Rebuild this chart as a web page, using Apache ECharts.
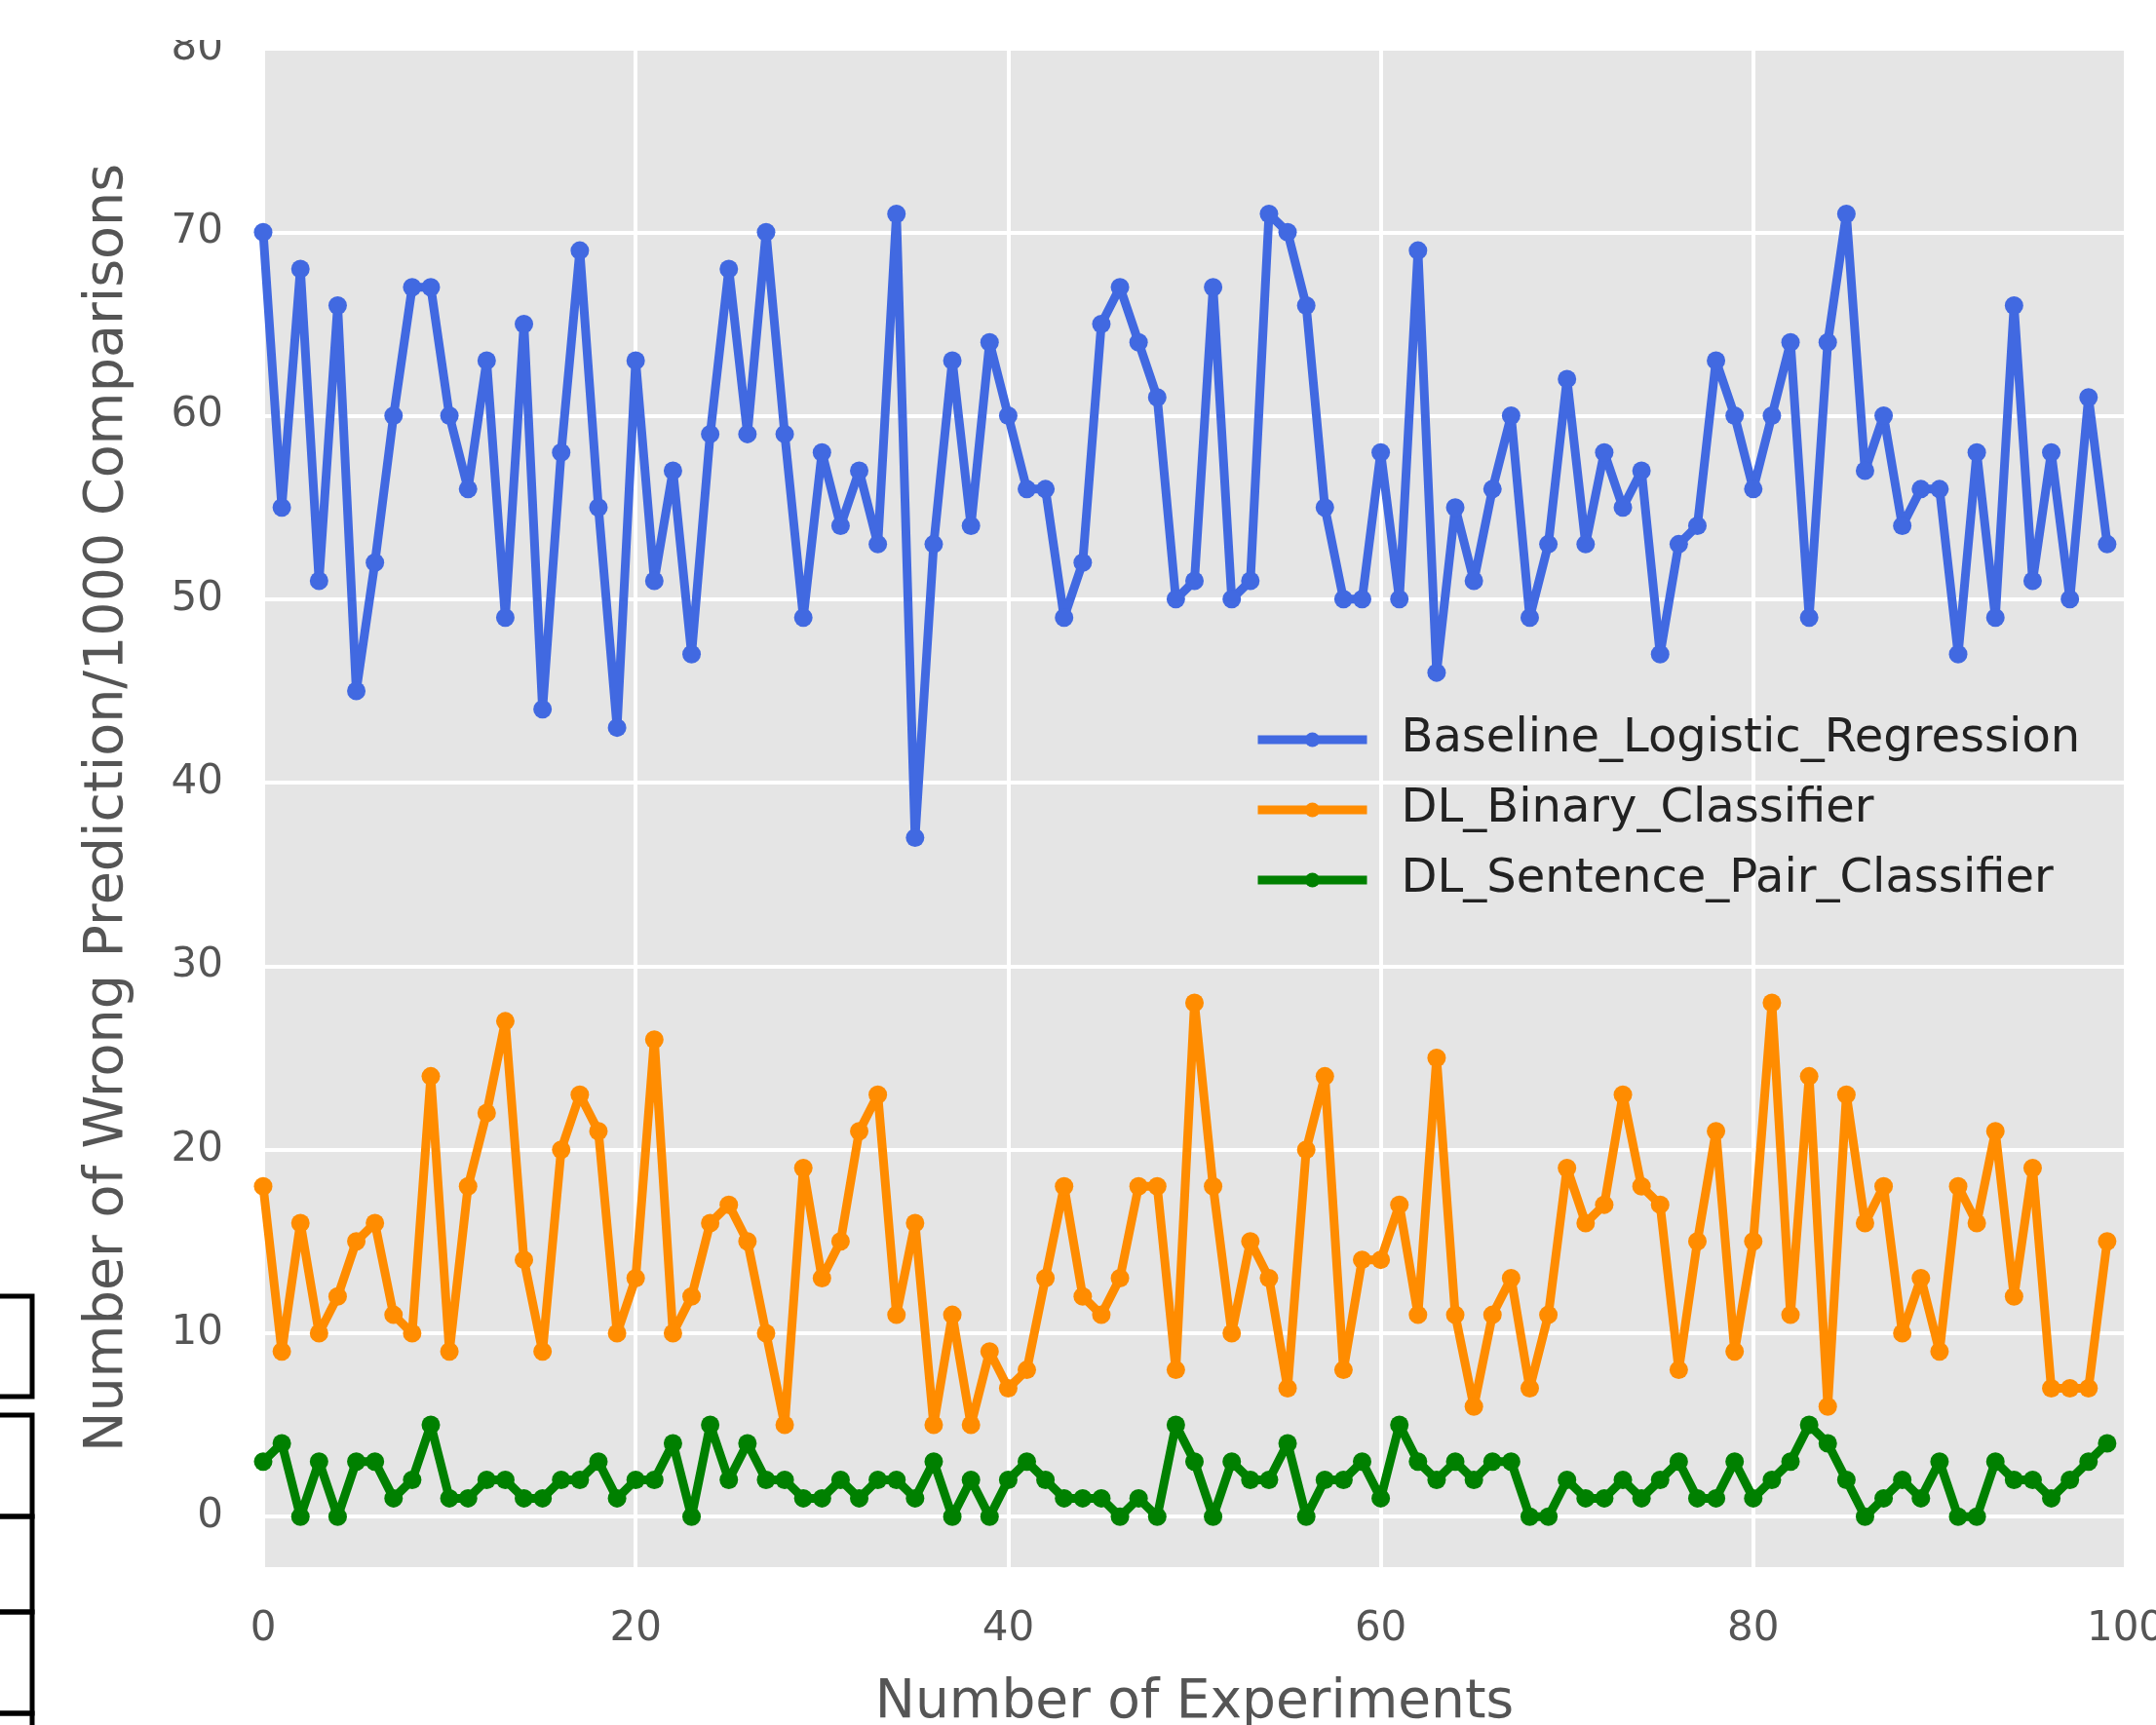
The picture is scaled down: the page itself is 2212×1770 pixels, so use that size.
<!DOCTYPE html>
<html>
<head>
<meta charset="utf-8">
<script src="https://cdn.jsdelivr.net/npm/echarts@6/dist/echarts.min.js"></script>
<style>
html,body{margin:0;padding:0;background:#fff;}
#chart{width:2212px;height:1770px;}
</style>
</head>
<body>
<div id="chart"></div>
<script>
const experiments = Array.from({length: 100}, (_, i) => i);
const baselineLogReg = [70,55,68,51,66,45,52,60,67,67,
  60,56,63,49,65,44,58,69,55,43,
  63,51,57,47,59,68,59,70,59,49,
  58,54,57,53,71,37,53,63,54,64,
  60,56,56,49,52,65,67,64,61,50,
  51,67,50,51,71,70,66,55,50,50,
  58,50,69,46,55,51,56,60,49,53,
  62,53,58,55,57,47,53,54,63,60,
  56,60,64,49,64,71,57,60,54,56,
  56,47,58,49,66,51,58,50,61,53];
const dlBinary = [18,9,16,10,12,15,16,11,10,24,
  9,18,22,27,14,9,20,23,21,10,
  13,26,10,12,16,17,15,10,5,19,
  13,15,21,23,11,16,5,11,5,9,
  7,8,13,18,12,11,13,18,18,8,
  28,18,10,15,13,7,20,24,8,14,
  14,17,11,25,11,6,11,13,7,11,
  19,16,17,23,18,17,8,15,21,9,
  15,28,11,24,6,23,16,18,10,13,
  9,18,16,21,12,19,7,7,7,15];
const dlSentencePair = [3,4,0,3,0,3,3,1,2,5,
  1,1,2,2,1,1,2,2,3,1,
  2,2,4,0,5,2,4,2,2,1,
  1,2,1,2,2,1,3,0,2,0,
  2,3,2,1,1,1,0,1,0,5,
  3,0,3,2,2,4,0,2,2,3,
  1,5,3,2,3,2,3,3,0,0,
  2,1,1,2,1,2,3,1,1,3,
  1,2,3,5,4,2,0,1,2,1,
  3,0,0,3,2,2,1,2,3,4];
const seriesNames = ['Baseline_Logistic_Regression','DL_Binary_Classifier','DL_Sentence_Pair_Classifier'];
const seriesColors = ['#4169E1','#FF8C00','#008000'];
const xTicks = [0,20,40,60,80,100];
const yTicks = [0,10,20,30,40,50,60,70,80];

const FONT = 'DejaVu Sans';
const chart = echarts.init(document.getElementById('chart'), null, {renderer:'canvas'});
const allSeries = [baselineLogReg, dlBinary, dlSentencePair].map((vals, k) => ({
  name: seriesNames[k],
  type: 'line',
  data: vals.map((v, i) => [experiments[i], v]),
  symbol: 'circle',
  symbolSize: 19,
  showSymbol: true,
  lineStyle: {width: 9, color: seriesColors[k]},
  itemStyle: {color: seriesColors[k]},
  emphasis: {disabled: true},
  z: 3
}));

chart.setOption({
  animation: false,
  backgroundColor: '#ffffff',
  grid: {left: 270, right: 31, top: 50, bottom: 162, show: true, backgroundColor: '#E5E5E5', borderWidth: 0,
    containLabel: false, outerBoundsMode: 'none'},
  legend: {
    orient: 'vertical',
    left: 1281,
    top: 728,
    itemWidth: 112,
    itemHeight: 19,
    itemGap: 20,
    data: seriesNames.map((n, k) => ({name: n, lineStyle: {width: 9, color: seriesColors[k]}, itemStyle: {color: seriesColors[k]}})),
    textStyle: {fontFamily: FONT, fontSize: 48, color: '#222', lineHeight: 52, padding: [0,0,0,30]}
  },
  xAxis: {
    type: 'value', min: 0, max: 100, interval: 20,
    name: 'Number of Experiments', nameLocation: 'middle', nameGap: 112,
    nameTextStyle: {fontFamily: FONT, fontSize: 55, color: '#555'},
    axisLine: {show: false}, axisTick: {show: false},
    axisLabel: {fontFamily: FONT, fontSize: 42, color: '#555', margin: 43,
      customValues: xTicks, alignMinLabel: 'center', alignMaxLabel: 'center', hideOverlap: false},
    splitLine: {show: true, lineStyle: {color: '#ffffff', width: 4}}
  },
  yAxis: {
    type: 'value', min: -2.75, max: 80,
    name: 'Number of Wrong Prediction/1000 Comparisons', nameLocation: 'middle', nameGap: 131,
    nameTextStyle: {fontFamily: FONT, fontSize: 55.5, color: '#555'},
    axisLine: {show: false},
    axisTick: {show: false, customValues: yTicks},
    axisLabel: {fontFamily: FONT, fontSize: 42, color: '#555', margin: 41, customValues: yTicks},
    splitLine: {show: true, lineStyle: {color: '#ffffff', width: 4}}
  },
  series: allSeries,
  graphic: [
    {type:'rect', z: 100, shape:{x:120,y:0,width:145,height:41}, style:{fill:'#ffffff'}},
    {type:'rect', shape:{x:-10,y:1330,width:43,height:103}, style:{fill:'none', stroke:'#000', lineWidth:5}},
    {type:'rect', shape:{x:-10,y:1452,width:43,height:104}, style:{fill:'none', stroke:'#000', lineWidth:5}},
    {type:'rect', shape:{x:-10,y:1556,width:43,height:98}, style:{fill:'none', stroke:'#000', lineWidth:5}},
    {type:'rect', shape:{x:-10,y:1654,width:43,height:104}, style:{fill:'none', stroke:'#000', lineWidth:5}},
    {type:'rect', shape:{x:-10,y:1758,width:43,height:40}, style:{fill:'none', stroke:'#000', lineWidth:5}}
  ]
});
</script>
</body>
</html>
